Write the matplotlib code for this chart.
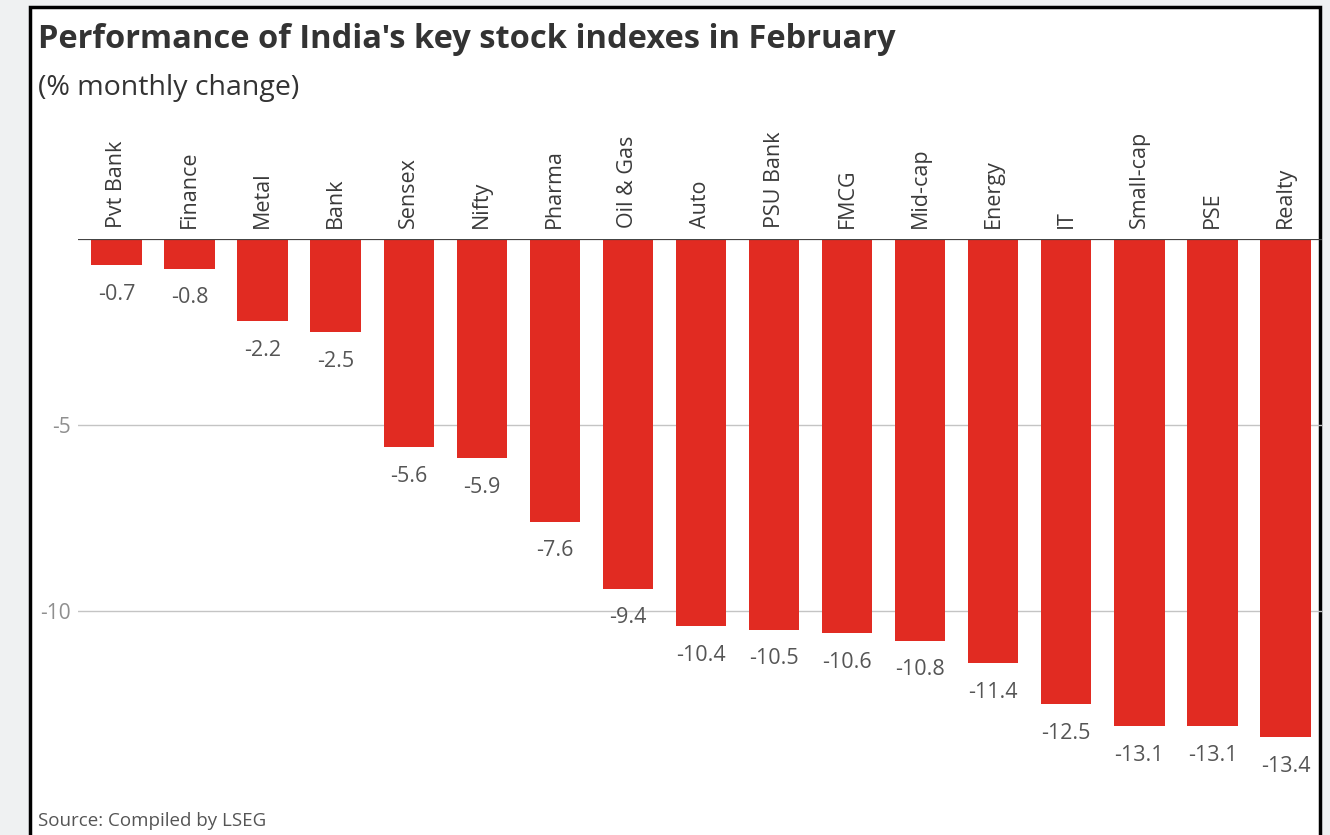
import matplotlib
matplotlib.use("Agg")
import matplotlib.pyplot as plt
from matplotlib.patches import Rectangle

categories = ["Pvt Bank", "Finance", "Metal", "Bank", "Sensex", "Nifty", "Pharma",
              "Oil & Gas", "Auto", "PSU Bank", "FMCG", "Mid-cap", "Energy", "IT",
              "Small-cap", "PSE", "Realty"]
values = [-0.7, -0.8, -2.2, -2.5, -5.6, -5.9, -7.6, -9.4, -10.4, -10.5, -10.6,
          -10.8, -11.4, -12.5, -13.1, -13.1, -13.4]
yticks = [-5, -10]
ytick_labels = ["-5", "-10"]

W, H = 1330, 835
plt.rcParams['font.family'] = ['Open Sans', 'DejaVu Sans']
fig = plt.figure(figsize=(W / 100, H / 100), dpi=100)
fig.patch.set_facecolor("#eff1f2")

# white panel with black border
panel = Rectangle((30 / W, -0.05), (1320 - 30) / W, 1 - 7 / H + 0.05,
                  transform=fig.transFigure, facecolor="white",
                  edgecolor="black", linewidth=2.5, zorder=-5)
fig.patches.append(panel)

ax = fig.add_axes([78 / W, 1 - 797 / H, (1322 - 78) / W, (797 - 239) / H])
ax.set_zorder(2)
ax.set_facecolor("none")
x = list(range(len(categories)))
bars = ax.bar(x, values, width=0.69, color="#e12b22", zorder=2)
ax.set_xlim(-0.527, 16.50)
ax.set_ylim(-15, 0)

for s in ax.spines.values():
    s.set_visible(False)
ax.axhline(0, color="#444444", lw=1.6, zorder=3)
for yt in yticks:
    ax.axhline(yt, color="#c4c4c4", lw=1.0, zorder=1)

ax.set_yticks(yticks)
ax.set_yticklabels(ytick_labels, fontsize=15, color="#8f8f8f")
ax.tick_params(axis="y", length=0, pad=5)

ax.xaxis.tick_top()
ax.set_xticks(x)
ax.set_xticklabels(categories, rotation=90, fontsize=15.5, color="#3a3a3a")
ax.tick_params(axis="x", length=0, pad=8)

for xi, v in zip(x, values):
    ax.annotate(f"{v}", (xi, v), xytext=(0, -21), textcoords="offset points",
                ha="center", va="center", fontsize=15.5, color="#555555")

fig.text(38 / W, 1 - 48 / H, "Performance of India's key stock indexes in February",
         fontsize=23.5, fontweight="bold", color="#333333", va="baseline", ha="left")
fig.text(38 / W, 1 - 95 / H, "(% monthly change)", fontsize=20.5,
         color="#333333", va="baseline", ha="left")
fig.text(38 / W, 1 - 826 / H, "Source: Compiled by LSEG", fontsize=13.5,
         color="#555555", va="baseline", ha="left")

fig.savefig("out.png", dpi=100, facecolor=fig.get_facecolor())
